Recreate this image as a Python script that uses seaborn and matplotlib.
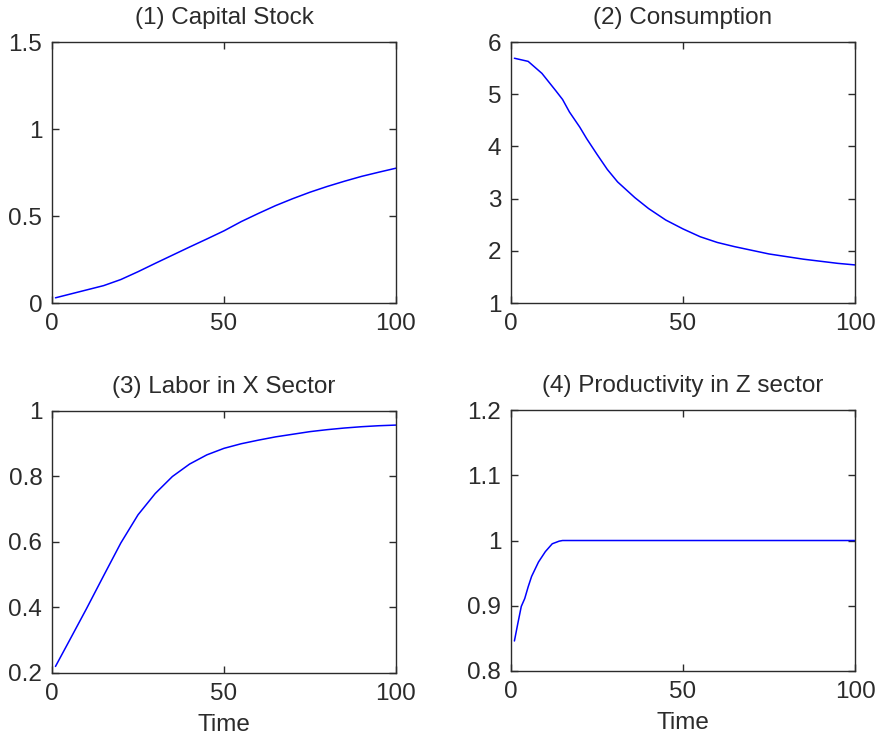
import matplotlib
matplotlib.use("Agg")
import matplotlib.pyplot as plt
import seaborn as sns
import pandas as pd

# Simulated transition paths
capital_t = [1, 5, 10, 15, 20, 25, 30, 35, 40, 45, 50, 55, 60, 65, 70, 75, 80, 85, 90, 95, 100]
capital_v = [0.030, 0.050, 0.075, 0.100, 0.135, 0.180, 0.228, 0.275, 0.322, 0.368, 0.415, 0.468, 0.515, 0.560, 0.600, 0.637, 0.670, 0.700, 0.728, 0.752, 0.775]

consumption_t = [1, 5, 9, 13, 15, 17, 20, 22, 25, 28, 31, 36, 40, 45, 50, 55, 60, 65, 70, 75, 80, 85, 90, 95, 100]
consumption_v = [5.69, 5.63, 5.40, 5.07, 4.90, 4.66, 4.37, 4.15, 3.85, 3.56, 3.32, 3.02, 2.81, 2.59, 2.42, 2.27, 2.16, 2.08, 2.01, 1.94, 1.89, 1.84, 1.80, 1.76, 1.73]

labor_t = [1, 5, 10, 15, 20, 25, 30, 35, 40, 45, 50, 55, 60, 65, 70, 75, 80, 85, 90, 95, 100]
labor_v = [0.220, 0.298, 0.396, 0.497, 0.597, 0.683, 0.748, 0.800, 0.838, 0.866, 0.886, 0.900, 0.911, 0.921, 0.929, 0.937, 0.943, 0.948, 0.952, 0.955, 0.957]

productivity_t = [1, 2, 3, 4, 5, 6, 7, 8, 9, 10, 11, 12, 13, 14, 15, 100]
productivity_v = [0.846, 0.873, 0.899, 0.911, 0.929, 0.945, 0.956, 0.967, 0.975, 0.983, 0.989, 0.995, 0.997, 0.999, 1.000, 1.000]

titles = ["(1) Capital Stock", "(2) Consumption", "(3) Labor in X Sector", "(4) Productivity in Z sector"]
ylims = [(0, 1.5), (1, 6), (0.2, 1), (0.8, 1.2)]
yticks = [[0, 0.5, 1, 1.5], [1, 2, 3, 4, 5, 6], [0.2, 0.4, 0.6, 0.8, 1], [0.8, 0.9, 1, 1.1, 1.2]]
yticklabels = [["0", "0.5", "1", "1.5"], ["1", "2", "3", "4", "5", "6"],
               ["0.2", "0.4", "0.6", "0.8", "1"], ["0.8", "0.9", "1", "1.1", "1.2"]]
xticks = [0, 50, 100]
xlabel = "Time"

sns.set_style("white")
plt.rcParams["font.family"] = ["Liberation Sans", "DejaVu Sans"]
plt.rcParams["text.color"] = "#2b2b2b"

series = [
    pd.DataFrame({"t": capital_t, "v": capital_v}),
    pd.DataFrame({"t": consumption_t, "v": consumption_v}),
    pd.DataFrame({"t": labor_t, "v": labor_v}),
    pd.DataFrame({"t": productivity_t, "v": productivity_v}),
]

fig = plt.figure(figsize=(8.79, 7.38), dpi=100)
boxes = [
    (0.0592, 0.5894, 0.3913, 0.3536),
    (0.5813, 0.5894, 0.3914, 0.3536),
    (0.0592, 0.0881, 0.3913, 0.3550),
    (0.5813, 0.0908, 0.3914, 0.3536),
]

for i, (box, df) in enumerate(zip(boxes, series)):
    ax = fig.add_axes(box)
    sns.lineplot(data=df, x="t", y="v", ax=ax, color=(0, 0, 1), linewidth=1.1)
    ax.set_xlim(0, 100)
    ax.set_ylim(*ylims[i])
    ax.set_xticks(xticks)
    ax.set_xticklabels([str(x) for x in xticks])
    ax.set_yticks(yticks[i])
    ax.set_yticklabels(yticklabels[i])
    ax.set_title(titles[i], fontsize=17.5, color="#2b2b2b", pad=13)
    ax.set_ylabel("")
    ax.set_xlabel(xlabel if i >= 2 else "", fontsize=17.5, color="#2b2b2b", labelpad=7)
    ax.tick_params(axis="both", direction="in", length=5, width=1, colors="#2b2b2b",
                   labelsize=17.5, top=True, right=True, bottom=True, left=True, pad=7)
    for sp in ax.spines.values():
        sp.set_visible(True)
        sp.set_color("#2b2b2b")
        sp.set_linewidth(1.0)

fig.savefig("out.png", dpi=100, facecolor="white")
